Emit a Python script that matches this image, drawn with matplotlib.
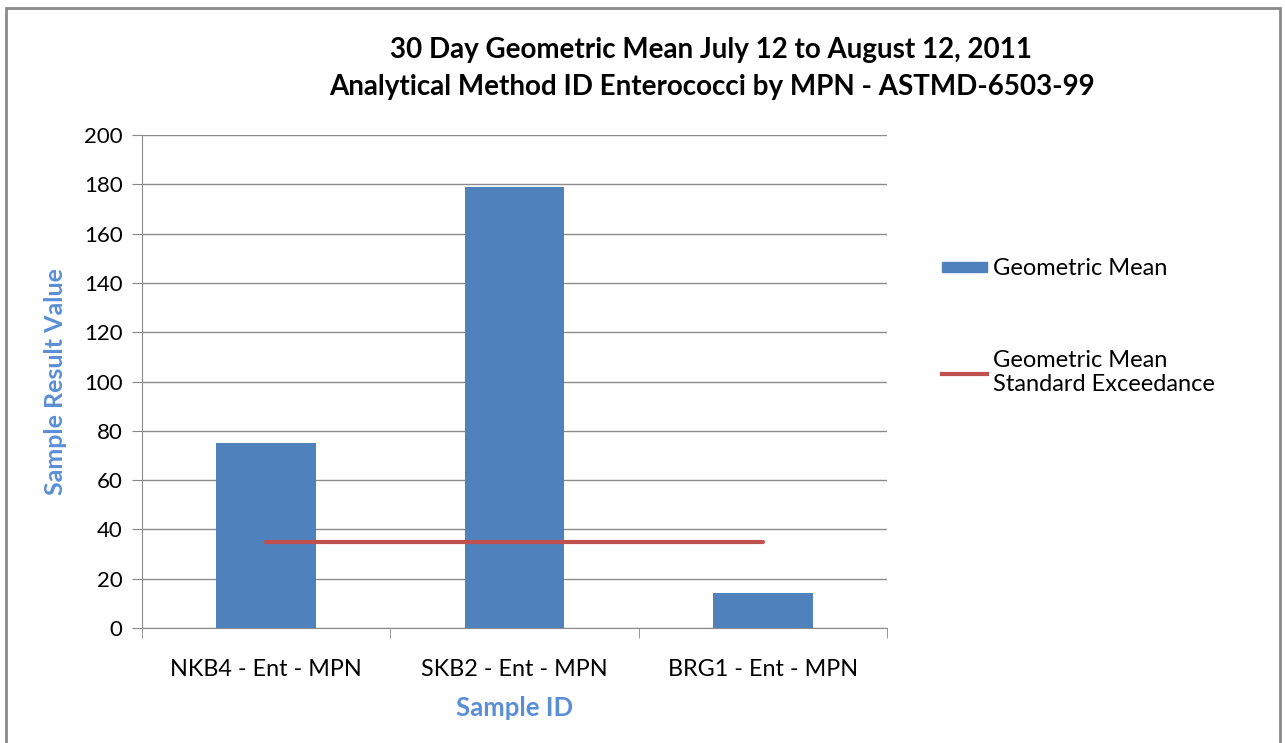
import matplotlib
matplotlib.use("Agg")
import matplotlib.pyplot as plt
from matplotlib.patches import Rectangle
from matplotlib.lines import Line2D

categories = ["NKB4 - Ent - MPN", "SKB2 - Ent - MPN", "BRG1 - Ent - MPN"]
geo_mean = [75, 179, 14]
standard = [35, 35, 35]
yticks = [0, 20, 40, 60, 80, 100, 120, 140, 160, 180, 200]

plt.rcParams['font.family'] = ['Lato', 'DejaVu Sans']

W, H = 1285, 743
fig = plt.figure(figsize=(W / 100, H / 100), dpi=100)
fig.patch.set_facecolor('white')

ax = fig.add_axes([142 / W, 1 - 628 / H, (887 - 142) / W, (628 - 135) / H])
x = list(range(len(categories)))
ax.bar(x, geo_mean, width=0.40, color='#4F81BD', zorder=2, label='Geometric Mean')
ax.plot(x, standard, color='#C0504D', lw=3, zorder=3, solid_capstyle='round',
        label='Geometric Mean\nStandard Exceedance')

ax.set_xlim(-0.5, 2.5)
ax.set_ylim(0, 200)
ax.set_yticks(yticks)
ax.set_yticklabels([str(v) for v in yticks], fontsize=16)
ax.set_xticks(x)
ax.set_xticklabels(categories, fontsize=16.8)
ax.tick_params(axis='x', length=0, pad=22)
ax.tick_params(axis='y', length=7, color='#888888', pad=7)
ax.set_xticks([-0.5, 0.5, 1.5, 2.5], minor=True)
ax.tick_params(axis='x', which='minor', length=7, color='#888888')
ax.yaxis.grid(True, color='#8c8c8c', lw=1)
ax.set_axisbelow(True)
for s in ['top', 'right']:
    ax.spines[s].set_visible(False)
for s in ['left', 'bottom']:
    ax.spines[s].set_color('#8c8c8c')

ax.set_ylabel('Sample Result Value', fontsize=18, fontweight='bold', color='#5A8FD6', labelpad=12)
ax.set_xlabel('Sample ID', fontsize=18.5, fontweight='bold', color='#5A8FD6', labelpad=12)

fig.text(711 / W, 1 - 50 / H, '30 Day Geometric Mean July 12 to August 12, 2011',
         ha='center', va='center', fontsize=20, fontweight='bold')
fig.text(712 / W, 1 - 87 / H, 'Analytical Method ID Enterococci by MPN - ASTMD-6503-99',
         ha='center', va='center', fontsize=20, fontweight='bold')

handles = [Rectangle((0, 0), 1, 1, color='#4F81BD'),
           Line2D([0], [0], color='#C0504D', lw=3)]
leg = fig.legend(handles, ['Geometric Mean', 'Geometric Mean\nStandard Exceedance'],
                 loc='upper left', bbox_to_anchor=(921 / W, 1 - 237 / H),
                 frameon=False, fontsize=17, handlelength=1.9, handleheight=0.3,
                 handletextpad=0.25, labelspacing=3.0)

fig.add_artist(Rectangle((6 / W, -0.05), (1280 - 6) / W, 1.05 - 8 / H,
                         transform=fig.transFigure, fill=False,
                         edgecolor='#8a8a8a', lw=2))

fig.savefig('out.png', dpi=100, facecolor='white')
